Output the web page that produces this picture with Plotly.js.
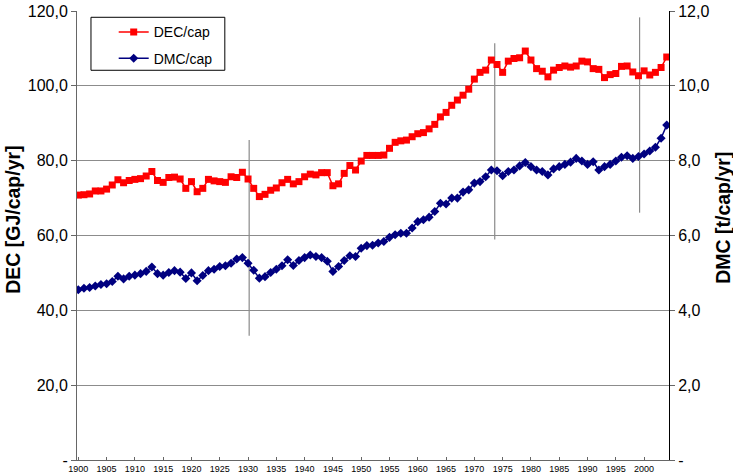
<!DOCTYPE html>
<html>
<head>
<meta charset="utf-8">
<script src="https://cdn.plot.ly/plotly-3.0.1.min.js"></script>
<style>html,body{margin:0;padding:0;background:#fff;}#chart{width:733px;height:474px;}</style>
</head>
<body>
<div id="chart"></div>
<script>
var years = [1900,1901,1902,1903,1904,1905,1906,1907,1908,1909,1910,1911,1912,1913,1914,1915,1916,1917,1918,1919,
1920,1921,1922,1923,1924,1925,1926,1927,1928,1929,1930,1931,1932,1933,1934,1935,1936,1937,1938,1939,
1940,1941,1942,1943,1944,1945,1946,1947,1948,1949,1950,1951,1952,1953,1954,1955,1956,1957,1958,1959,
1960,1961,1962,1963,1964,1965,1966,1967,1968,1969,1970,1971,1972,1973,1974,1975,1976,1977,1978,1979,
1980,1981,1982,1983,1984,1985,1986,1987,1988,1989,1990,1991,1992,1993,1994,1995,1996,1997,1998,1999,
2000,2001,2002,2003,2004];

var decCap = [70.8,70.9,71.1,71.9,71.9,72.4,73.5,74.9,74.1,74.7,75.0,75.2,75.9,77.1,74.7,74.2,75.5,75.6,75.1,72.6,
74.4,71.7,72.6,75.0,74.6,74.4,74.2,75.7,75.5,76.9,75.1,72.6,70.4,71.0,72.1,72.7,74.1,75.0,73.8,74.4,
75.7,76.4,76.2,76.8,76.8,73.3,73.8,76.6,78.7,77.5,79.9,81.4,81.4,81.4,81.5,83.3,84.9,85.3,85.5,86.4,
87.2,87.5,88.5,89.7,91.7,92.9,94.8,96.2,97.5,99.1,101.8,103.6,104.2,106.9,105.7,103.6,106.6,107.3,107.5,109.3,
106.9,104.6,103.9,102.4,104.2,104.9,105.3,105.0,105.3,106.6,106.4,104.6,104.4,102.2,103.0,103.3,105.2,105.3,103.7,102.7,
104.0,102.9,103.6,104.9,107.7];

var dmcCap = [4.55,4.59,4.61,4.65,4.69,4.71,4.77,4.91,4.84,4.91,4.94,4.98,5.04,5.16,4.98,4.94,5.01,5.06,5.02,4.85,
5.00,4.79,4.93,5.06,5.10,5.17,5.19,5.26,5.37,5.41,5.26,5.07,4.86,4.90,5.01,5.10,5.19,5.35,5.20,5.33,
5.41,5.48,5.44,5.41,5.31,5.04,5.17,5.33,5.46,5.44,5.66,5.73,5.74,5.80,5.84,5.95,6.02,6.06,6.06,6.20,
6.37,6.42,6.49,6.64,6.86,6.84,7.00,7.00,7.16,7.22,7.40,7.44,7.57,7.75,7.73,7.60,7.71,7.75,7.86,7.95,
7.84,7.75,7.71,7.62,7.78,7.84,7.90,7.96,8.06,7.99,7.90,7.97,7.75,7.84,7.90,7.99,8.09,8.13,8.06,8.11,
8.18,8.26,8.36,8.60,8.95];

var xTickVals = [1900,1905,1910,1915,1920,1925,1930,1935,1940,1945,1950,1955,1960,1965,1970,1975,1980,1985,1990,1995,2000];
var xTickText = ["1900","1905","1910","1915","1920","1925","1930","1935","1940","1945","1950","1955","1960","1965","1970","1975","1980","1985","1990","1995","2000"];
var yTickVals = [0,20,40,60,80,100,120];
var yTickText = ["-","20,0","40,0","60,0","80,0","100,0","120,0"];
var y2TickVals = [0,2,4,6,8,10,12];
var y2TickText = ["-","2,0","4,0","6,0","8,0","10,0","12,0"];

// vertical marker lines: [year, bottom (left-axis units), top (left-axis units)]
var markerYears = [1930.2, 1973.6, 1999.2];
var markerBottoms = [33.2, 58.9, 66.1];
var markerTops = [85.5, 111.4, 118.3];

var FONT = "Liberation Sans, Arial, sans-serif";
var X_RANGE = [1899.77, 2004.4];

var traces = [
  {x: years, y: decCap, name: "DEC/cap", type: "scatter", mode: "lines+markers",
   line: {color: "#FF0000", width: 1.5},
   marker: {symbol: "square", size: 7, color: "#FF0000"},
   legendgroup: "a", yaxis: "y"},
  {x: years, y: dmcCap, name: "DMC/cap", type: "scatter", mode: "lines+markers",
   line: {color: "#000080", width: 1.5},
   marker: {symbol: "diamond", size: 7, color: "#000080"},
   legendgroup: "b", yaxis: "y2"}
];

var shapes = [];
for (var i = 0; i < markerYears.length; i++) {
  shapes.push({type: "line", xref: "x", yref: "y", x0: markerYears[i], x1: markerYears[i],
    y0: markerBottoms[i], y1: markerTops[i], line: {color: "#8a8a8a", width: 1.2}, layer: "below"});
}
// legend frame
shapes.push({type: "rect", xref: "paper", yref: "paper", x0: 0.0236, x1: 0.2497, y0: 0.868, y1: 0.986,
  line: {color: "#000000", width: 1}, fillcolor: "#ffffff", layer: "below"});

var layout = {
  width: 733, height: 474,
  margin: {l: 77, r: 64, t: 11, b: 14, pad: 0},
  paper_bgcolor: "#ffffff", plot_bgcolor: "#ffffff",
  font: {family: FONT, color: "#000000"},
  showlegend: true,
  legend: {x: 0.062, y: 0.988, xanchor: "left", yanchor: "top", bgcolor: "rgba(0,0,0,0)",
    borderwidth: 0, font: {family: FONT, size: 14, color: "#000"}, tracegroupgap: 5},
  xaxis: {range: X_RANGE, tickmode: "array", tickvals: xTickVals, ticktext: xTickText,
    showgrid: false, zeroline: false, showline: true, linecolor: "#666666", linewidth: 1,
    ticks: "inside", ticklen: 3, tickcolor: "#666666", tickfont: {family: FONT, size: 9, color: "#000"}},
  xaxis2: {range: X_RANGE, overlaying: "x", anchor: "y", side: "bottom", tickmode: "array", tickvals: xTickVals,
    showticklabels: false, showgrid: false, zeroline: false, showline: false,
    ticks: "outside", ticklen: 2, tickcolor: "#666666"},
  yaxis: {range: [0, 120], tickmode: "array", tickvals: yTickVals, ticktext: yTickText,
    showgrid: true, gridcolor: "#8c8c8c", gridwidth: 1, zeroline: false, showline: true, linecolor: "#666666",
    ticks: "outside", ticklen: 5, tickcolor: "#666666", tickfont: {family: FONT, size: 16, color: "#000"}},
  yaxis2: {range: [0, 12], overlaying: "y", side: "right", tickmode: "array", tickvals: y2TickVals, ticktext: y2TickText,
    showgrid: false, zeroline: false, showline: true, linecolor: "#000000", linewidth: 1,
    ticks: "outside", ticklen: 5, tickcolor: "#666666", tickfont: {family: FONT, size: 16, color: "#000"}},
  shapes: shapes,
  annotations: [
    {text: "<b>DEC [GJ/cap/yr]</b>", xref: "paper", yref: "paper", x: -0.108, y: 0.535, textangle: -90,
     showarrow: false, font: {family: FONT, size: 19.5, color: "#000"}, xanchor: "center", yanchor: "middle"},
    {text: "<b>DMC [t/cap/yr]</b>", xref: "paper", yref: "paper", x: 1.09, y: 0.54, textangle: -90,
     showarrow: false, font: {family: FONT, size: 19.5, color: "#000"}, xanchor: "center", yanchor: "middle"}
  ]
};

Plotly.newPlot("chart", traces, layout, {displayModeBar: false, staticPlot: true});
</script>
</body>
</html>
